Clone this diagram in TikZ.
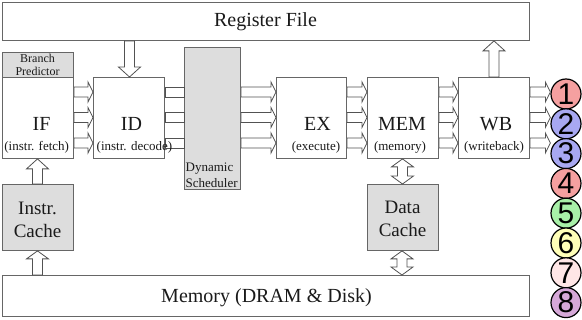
\documentclass[tikz,border=0pt]{standalone}
\usepackage{fontspec}
\setmainfont{Liberation Serif}
\newfontfamily\numfont{Liberation Sans}
\usetikzlibrary{calc}
\definecolor{edge}{HTML}{666666}
\definecolor{shade}{HTML}{DDDDDD}
\definecolor{ink}{HTML}{1A1A1A}
\definecolor{cRed}{HTML}{F5A0A0}
\definecolor{cBlue}{HTML}{A8A8F2}
\definecolor{cGreen}{HTML}{A8F0A8}
\definecolor{cYellow}{HTML}{FFFFB8}
\definecolor{cPink}{HTML}{FFE6E6}
\definecolor{cPurple}{HTML}{D6A8D8}
\newcommand\fs[1]{\fontsize{#1}{#1}\selectfont}
% horizontal hollow arrow: from, to, y
\newcommand\harr[3]{\draw[blk] (#1.east |- 0,#3-5) -- ($(#2.west |- 0,#3)+(-5,-5)$) -- ++(0,-5) -- (#2.west |- 0,#3) -- ($(#2.west |- 0,#3)+(-5,10)$) -- ++(0,-5) -- (#1.east |- 0,#3+5) -- cycle;}
% shaft only
\newcommand\shaftonly[3]{\draw[blk] (#1.east |- 0,#3-5) rectangle (#2.west |- 0,#3+5);}
% vertical up arrow: lower, upper, x, head length
\newcommand\vup[4]{\draw[blk] (#3-5,0 |- #1.north) -- ($(#3,0 |- #2.south)+(-5,#4)$) -- ++(-6,0) -- (#3,0 |- #2.south) -- ($(#3,0 |- #2.south)+(11,#4)$) -- ++(-6,0) -- (#3+5,0 |- #1.north) -- cycle;}
% vertical down arrow: upper, lower, x, head length
\newcommand\vdown[4]{\draw[blk] (#3-5,0 |- #1.south) -- ($(#3,0 |- #2.north)+(-5,-#4)$) -- ++(-6,0) -- (#3,0 |- #2.north) -- ($(#3,0 |- #2.north)+(11,-#4)$) -- ++(-6,0) -- (#3+5,0 |- #1.south) -- cycle;}
% vertical double arrow: upper, lower, x, head length
\newcommand\vboth[4]{\draw[blk] (#3,0 |- #1.south) -- ($(#3,0 |- #1.south)+(11,#4)$) -- ++(-6,0) -- ($(#3,0 |- #2.north)+(5,-#4)$) -- ++(6,0) -- (#3,0 |- #2.north) -- ($(#3,0 |- #2.north)+(-11,-#4)$) -- ++(6,0) -- ($(#3,0 |- #1.south)+(-5,#4)$) -- ++(-6,0) -- cycle;}
\tikzset{
  box/.style={draw=edge, line width=0.9pt, fill=white, inner sep=0pt, anchor=north west},
  gbox/.style={box, fill=shade},
  blk/.style={draw=edge!80!black, line width=0.8pt, fill=white, line join=miter},
  txt/.style={text=ink, inner sep=0pt, anchor=base},
  num/.style={circle, draw=black, line width=1.2pt, minimum size=30pt, inner sep=0pt, font=\numfont\fs{30}, text=black}
}
\begin{document}
\begin{tikzpicture}[x=1pt, y=-1pt]
\useasboundingbox (0,0) rectangle (582,320);
% boxes
\node[box, minimum width=527pt, minimum height=38pt] (RF) at (2,2) {};
\node[gbox, minimum width=71pt, minimum height=25pt] (BP) at (2,52) {};
\node[box, minimum width=71pt, minimum height=81pt] (IF) at (2,77) {};
\node[box, minimum width=71pt, minimum height=81pt] (ID) at (93,77) {};
\node[gbox, minimum width=56pt, minimum height=142pt] (SCH) at (184,47) {};
\node[box, minimum width=70pt, minimum height=81pt] (EX) at (276,77) {};
\node[box, minimum width=71pt, minimum height=81pt] (MEM) at (367,77) {};
\node[box, minimum width=71pt, minimum height=81pt] (WB) at (458,77) {};
\node[gbox, minimum width=71pt, minimum height=66pt] (IC) at (2,184) {};
\node[gbox, minimum width=71pt, minimum height=66pt] (DC) at (367,184) {};
\node[box, minimum width=527pt, minimum height=41pt] (MM) at (2,275) {};
% circles
\node[num, fill=cRed]    (c1) at (566,94) {1};
\node[num, fill=cBlue]   (c2) at (566,123.8) {2};
\node[num, fill=cBlue]   (c3) at (566,153.6) {3};
\node[num, fill=cRed]    (c4) at (566,183.4) {4};
\node[num, fill=cGreen]  (c5) at (566,213.2) {5};
\node[num, fill=cYellow] (c6) at (566,243) {6};
\node[num, fill=cPink]   (c7) at (566,272.8) {7};
\node[num, fill=cPurple] (c8) at (566,302.6) {8};
% horizontal arrows
\foreach \yy in {92,117.5,143} {
  \harr{IF}{ID}{\yy}
  \shaftonly{ID}{SCH}{\yy}
  \harr{SCH}{EX}{\yy}
  \harr{EX}{MEM}{\yy}
  \harr{MEM}{WB}{\yy}
}
\harr{WB}{c1}{92}
\harr{WB}{c2}{117.5}
\harr{WB}{c3}{143}
% vertical arrows
\vdown{RF}{ID}{129.5}{10}
\vup{WB}{RF}{494}{10}
\vup{IC}{IF}{37.5}{10}
\vup{MM}{IC}{37.5}{8}
\vboth{MEM}{DC}{402.5}{8}
\vboth{DC}{MM}{402}{8}
% texts
\node[txt, font=\fs{20}] (RFt) at (265.5,27) {Register File};
\node[txt, font=\fs{12}] (BPa) at (37.5,62.5) {Branch};
\node[txt, font=\fs{12}] (BPb) at (37.5,76) {Predictor};
\node[txt, font=\fs{20}] (IFa) at (41.5,131) {IF};
\node[txt, font=\fs{13}] (IFb) at (36.7,150.5) {(instr. fetch)};
\node[txt, font=\fs{20}] (IDa) at (131.5,131) {ID};
\node[txt, font=\fs{13}, anchor=base west] (IDb) at (96.5,150.5) {(instr. decode)};
\node[txt, font=\fs{13}, anchor=base west] (SCa) at (185.5,171.5) {Dynamic};
\node[txt, font=\fs{13}, anchor=base west] (SCb) at (185.5,188) {Scheduler};
\node[txt, font=\fs{20}] (EXa) at (317.5,131) {EX};
\node[txt, font=\fs{13}] (EXb) at (316,150.5) {(execute)};
\node[txt, font=\fs{20}] (MEa) at (402,131) {MEM};
\node[txt, font=\fs{13}] (MEb) at (400,150.5) {(memory)};
\node[txt, font=\fs{20}] (WBa) at (496,131) {WB};
\node[txt, font=\fs{13}] (WBb) at (494,150.5) {(writeback)};
\node[txt, font=\fs{19}] (ICa) at (37.5,214.5) {Instr.};
\node[txt, font=\fs{19}] (ICb) at (37.5,237.5) {Cache};
\node[txt, font=\fs{19}] (DCa) at (402.5,213.5) {Data};
\node[txt, font=\fs{19}] (DCb) at (402.5,236.5) {Cache};
\node[txt, font=\fs{20}] (MMt) at (266.5,303) {Memory (DRAM \& Disk)};
\end{tikzpicture}
\end{document}
